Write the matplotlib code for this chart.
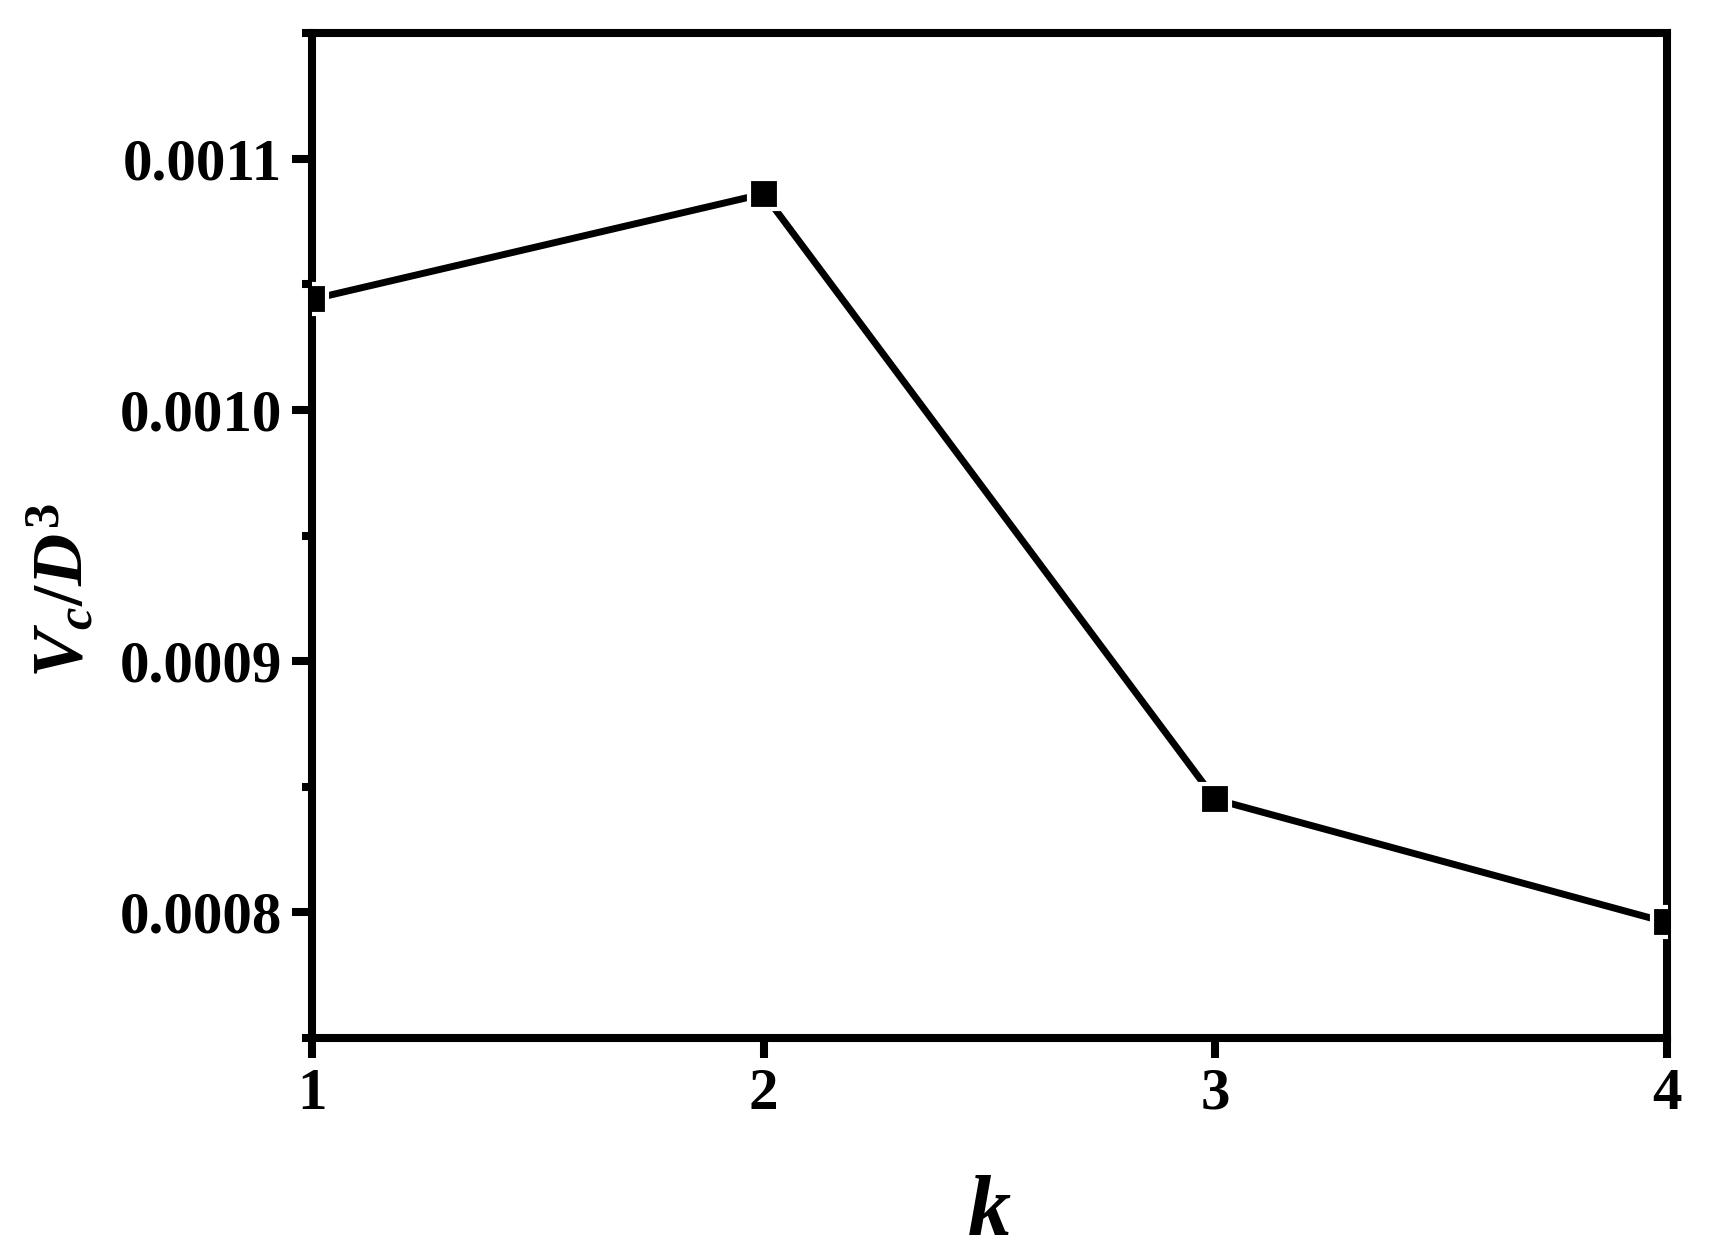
import matplotlib
matplotlib.use("Agg")
import matplotlib.pyplot as plt
from matplotlib.ticker import MultipleLocator, FormatStrFormatter

plt.rcParams["font.family"] = "Liberation Serif"
plt.rcParams["font.weight"] = "bold"
plt.rcParams["mathtext.fontset"] = "custom"
plt.rcParams["mathtext.it"] = "Liberation Serif:italic:bold"
plt.rcParams["mathtext.rm"] = "Liberation Serif:bold"
plt.rcParams["mathtext.bf"] = "Liberation Serif:bold"

# data
k_vals = [1, 2, 3, 4]
vc_d3 = [0.001044, 0.001086, 0.000845, 0.000796]

fig = plt.figure(figsize=(17.17, 12.59), dpi=100)
ax = fig.add_axes([0.1817, 0.1755, 0.7892, 0.7983])

ax.plot(k_vals, vc_d3, color="black", lw=5, marker="s", markersize=22,
        markerfacecolor="black", markeredgecolor="white", markeredgewidth=3,
        zorder=3)

ax.set_xlim(1, 4)
ax.set_ylim(0.00075, 0.00115)
ax.xaxis.set_major_locator(MultipleLocator(1))
ax.yaxis.set_major_locator(MultipleLocator(0.0001))
ax.yaxis.set_minor_locator(MultipleLocator(0.00005))
ax.yaxis.set_major_formatter(FormatStrFormatter("%.4f"))

for s in ax.spines.values():
    s.set_linewidth(5.8)

ax.tick_params(axis="both", which="major", direction="out", length=14.5,
               width=5.8, labelsize=42.5, pad=7)
ax.tick_params(axis="both", which="minor", direction="out", length=7.5, width=5.8)
ax.tick_params(top=False, right=False)

ax.set_xlabel("$k$", fontsize=62, labelpad=38)
ax.set_ylabel("$V_c/D^3$", fontsize=52)
ax.yaxis.set_label_coords(-0.158, 0.445)

fig.savefig("out.png", dpi=100)
